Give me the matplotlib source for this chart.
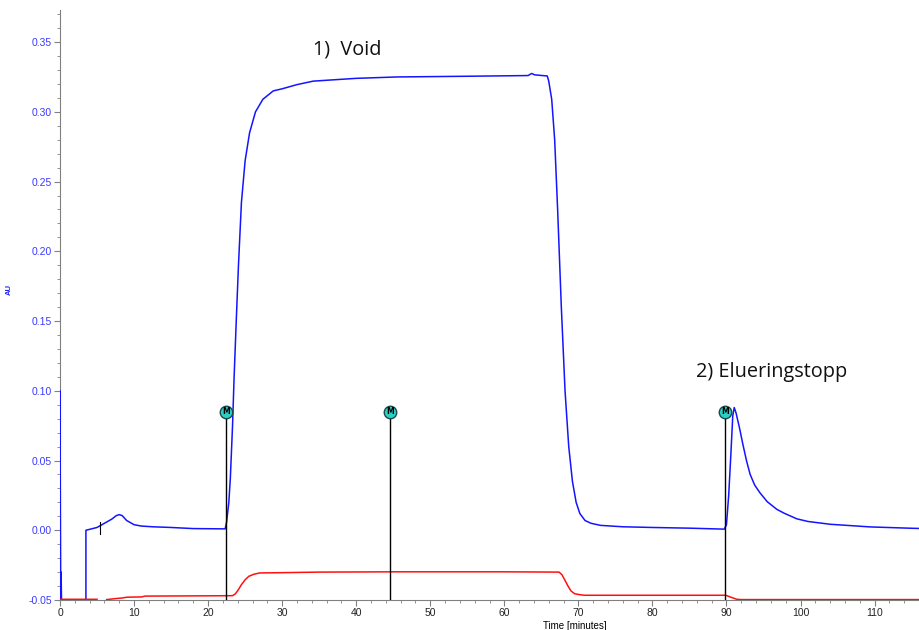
import numpy as np
import matplotlib
matplotlib.use('Agg')
import matplotlib.pyplot as plt
from matplotlib.ticker import MultipleLocator, FormatStrFormatter

# blue trace (UV, AU)
blue_t = [0.0, 0.0, 0.05, 0.1, 0.15, 0.2, 3.5, 3.5, 5.0, 6.0, 7.0, 7.6, 8.0, 8.4, 9.0,
          10.0, 11.0, 12.5, 15.0, 18.0, 22.3, 22.5, 22.8, 23.0, 23.3, 23.5, 23.8, 24.1,
          24.5, 25.0, 25.6, 26.4, 27.4, 28.8, 30.0, 32.0, 34.2, 40.0, 45.5, 55.0, 63.2,
          63.7, 64.1, 65.8, 66.0, 66.4, 66.8, 67.2, 67.7, 68.2, 68.7, 69.2, 69.7, 70.2,
          70.9, 71.7, 73.0, 76.0, 80.0, 85.0, 89.7, 90.0, 90.3, 90.6, 90.85, 91.05, 91.3,
          91.8, 92.2, 92.7, 93.2, 93.8, 94.5, 95.5, 96.8, 97.8, 99.5, 101.0, 104.0, 109.4,
          115.2, 116.0]
blue_y = [-0.05, 0.10, 0.015, -0.05, -0.03, -0.05, -0.05, 0.0, 0.002, 0.005, 0.008, 0.0105,
          0.0112, 0.0105, 0.007, 0.004, 0.003, 0.0025, 0.002, 0.0012, 0.001, 0.006, 0.02,
          0.037, 0.075, 0.108, 0.15, 0.19, 0.235, 0.265, 0.285, 0.300, 0.309, 0.315, 0.3165,
          0.3195, 0.322, 0.324, 0.325, 0.3255, 0.326, 0.3275, 0.3265, 0.3257, 0.322, 0.309,
          0.28, 0.23, 0.16, 0.10, 0.06, 0.035, 0.02, 0.012, 0.007, 0.005, 0.0035, 0.0025,
          0.002, 0.0015, 0.0008, 0.004, 0.025, 0.055, 0.082, 0.088, 0.084, 0.0724, 0.062,
          0.050, 0.040, 0.0325, 0.027, 0.0205, 0.015, 0.0122, 0.0082, 0.0063, 0.0043,
          0.0024, 0.0014, 0.0013]

# red trace
red_t = [0.0, 5.0, 5.0, 6.3, 7.5, 8.5, 9.0, 11.0, 11.5, 20.0, 23.3, 23.7, 24.1, 24.5, 25.0,
         25.5, 26.2, 27.0, 30.0, 35.0, 45.0, 60.0, 67.4, 67.8, 68.2, 68.6, 69.0, 69.5, 70.2,
         70.8, 80.0, 89.9, 90.6, 91.4, 92.0, 116.0]
red_y = [-0.0495, -0.0495, np.nan, -0.0497, -0.049, -0.0485, -0.048, -0.0478, -0.0472,
         -0.0470, -0.0469, -0.0455, -0.0425, -0.039, -0.0355, -0.0330, -0.0315, -0.0306,
         -0.0304, -0.0300, -0.0298, -0.0298, -0.0300, -0.032, -0.036, -0.040, -0.0435,
         -0.0455, -0.0462, -0.0466, -0.0466, -0.0466, -0.048, -0.0495, -0.0497, -0.0497]

# event marks
mark_t = [22.4, 44.6, 89.8]
mark_top = 0.085

fig = plt.figure(figsize=(9.19, 6.3), dpi=100)
ax = fig.add_axes([60/919, 30/630, 859/919, 590/630])

ax.plot(blue_t, blue_y, color='#1414ff', lw=1.1, zorder=3)
ax.plot(red_t, red_y, color='#ff1010', lw=1.1, zorder=4)
ax.plot([5.4, 5.4], [-0.0025, 0.006], color='black', lw=0.8, zorder=5)

ax.vlines(mark_t, -0.05, mark_top, color='black', lw=1.0, zorder=5)
ax.plot(mark_t, [mark_top]*len(mark_t), 'o', ms=9, mfc='#2ccfc6', mec='#1c4a4a',
        mew=1.0, zorder=6, clip_on=False)
for t in mark_t:
    ax.text(t, mark_top, 'M', ha='center', va='center', fontsize=5.5,
            fontweight='bold', color='black', zorder=7)

ax.text(34.2, 0.341, '1)  Void', fontsize=14.3, family='Open Sans', color='#111111')
ax.text(85.9, 0.1097, '2) Elueringstopp', fontsize=14.3, family='Open Sans', color='#111111')

ax.set_xlim(0, 116)
ax.set_ylim(-0.05, 0.373)

for s in ['top', 'right']:
    ax.spines[s].set_visible(False)
for s in ['left', 'bottom']:
    ax.spines[s].set_color('#808080')

ax.xaxis.set_major_locator(MultipleLocator(10))
ax.xaxis.set_minor_locator(MultipleLocator(2))
ax.yaxis.set_major_locator(MultipleLocator(0.05))
ax.yaxis.set_minor_locator(MultipleLocator(0.01))
ax.yaxis.set_major_formatter(FormatStrFormatter('%.2f'))

ax.tick_params(axis='both', which='major', length=4, color='#808080',
               labelsize=7.5, pad=2)
ax.tick_params(axis='both', which='minor', length=2, color='#808080')
ax.tick_params(axis='y', labelcolor='#3a3aff')
ax.tick_params(axis='x', labelcolor='#222222')
for lab in ax.get_xticklabels() + ax.get_yticklabels():
    lab.set_family('Liberation Sans')

ax.set_xlabel('Time [minutes]', fontsize=7, family='Liberation Sans')
ax.xaxis.set_label_coords((575-60)/859, -0.036)
ax.set_ylabel('AU', fontsize=5.5, color='#2020ff', fontweight='bold',
              family='Liberation Sans')
ax.yaxis.set_label_coords(-0.055, 0.527)

fig.savefig('out.png', dpi=100)
